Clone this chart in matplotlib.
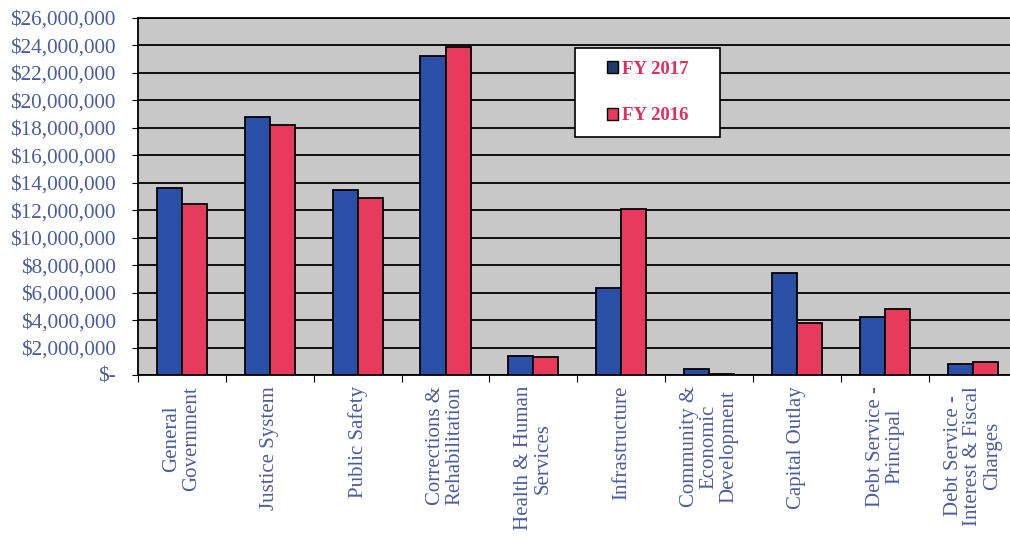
import matplotlib
matplotlib.use("Agg")
import matplotlib.pyplot as plt
import numpy as np
from matplotlib.patches import Patch, Rectangle
from matplotlib.ticker import FuncFormatter, MultipleLocator

categories = [
    "General\nGovernment",
    "Justice System",
    "Public Safety",
    "Corrections &\nRehabilitation",
    "Health & Human\nServices",
    "Infrastructure",
    "Community &\nEconomic\nDevelopment",
    "Capital Outlay",
    "Debt Service -\nPrincipal",
    "Debt Service -\nInterest & Fiscal\nCharges",
]
fy2017 = [13600000, 18800000, 13500000, 23200000, 1400000, 6300000, 450000, 7400000, 4200000, 800000]
fy2016 = [12450000, 18200000, 12900000, 23900000, 1300000, 12100000, 70000, 3800000, 4800000, 950000]
series_labels = ["FY 2017", "FY 2016"]

blue = "#2a4fa6"
red = "#e83a5c"
label_color = "#4c5c9c"

plt.rcParams["font.family"] = ["Liberation Serif", "DejaVu Serif"]

fig = plt.figure(figsize=(10.10, 5.38), dpi=100)
ax = fig.add_axes([0.1366, 0.303, 0.870, 0.6636])
ax.set_facecolor("#c8c8c8")

x = np.arange(len(categories))
w = 0.285
ax.bar(x - w / 2, fy2017, w, color=blue, edgecolor="black", linewidth=1.3, zorder=3)
ax.bar(x + w / 2, fy2016, w, color=red, edgecolor="black", linewidth=1.3, zorder=3)

ax.set_xlim(-0.5, len(categories) - 0.5)
ax.set_ylim(0, 26000000)
ax.yaxis.set_major_locator(MultipleLocator(2000000))
ax.yaxis.set_major_formatter(FuncFormatter(lambda v, p: "$-" if v == 0 else f"${v:,.0f}"))
ax.grid(axis="y", color="black", linewidth=1.3, zorder=1)

# Category separators as major ticks, names on minor ticks
ax.set_xticks(np.arange(-0.5, len(categories), 1.0))
ax.set_xticklabels([])
ax.set_xticks(x, minor=True)
ax.set_xticklabels(categories, minor=True, rotation=90, ha="center", va="top",
                   fontsize=15, color=label_color, linespacing=1.05)
ax.tick_params(axis="x", which="minor", length=0, pad=8)
ax.tick_params(axis="x", which="major", length=5, color="black")
ax.tick_params(axis="y", labelsize=15.3, labelcolor=label_color, length=4, pad=12)

for side in ["left", "bottom", "top"]:
    ax.spines[side].set_color("black")
    ax.spines[side].set_linewidth(1.3)
ax.spines["right"].set_visible(False)

# Legend box
bx0, by0, bx1, by1 = 575 / 1010, 1 - 137 / 538, 720 / 1010, 1 - 48 / 538
fig.patches.append(Rectangle((bx0, by0), bx1 - bx0, by1 - by0, transform=fig.transFigure,
                             facecolor="white", edgecolor="black", linewidth=1.2, zorder=5))
handles = [Patch(facecolor="#223a6a", edgecolor="black"), Patch(facecolor=red, edgecolor="black")]
leg = fig.legend(handles, series_labels, loc="center", bbox_to_anchor=((bx0 + bx1) / 2, (by0 + by1) / 2),
                 frameon=False, labelcolor="#e0305a", handlelength=0.6, handleheight=0.6,
                 handletextpad=0.2, labelspacing=1.6, prop={"weight": "bold", "size": 13.5})
leg.set_zorder(6)

fig.savefig("out.png", dpi=100)
